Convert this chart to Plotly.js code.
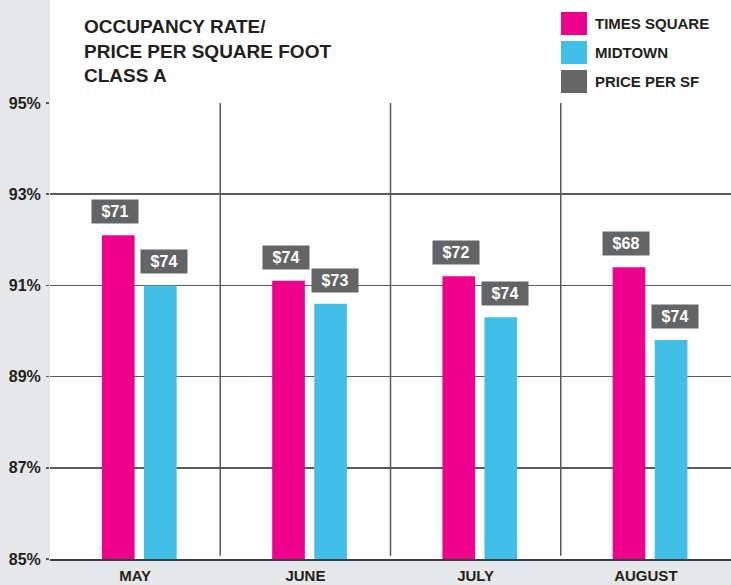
<!DOCTYPE html>
<html>
<head>
<meta charset="utf-8">
<script src="https://cdn.plot.ly/plotly-3.0.1.min.js"></script>
<style>html,body{margin:0;padding:0;background:#e6e7e8;}#chart{width:731px;height:585px;}</style>
</head>
<body>
<div id="chart"></div>
<script>
// ---- data ----
const months = ["MAY", "JUNE", "JULY", "AUGUST"];
const timesSquare = [92.1, 91.1, 91.2, 91.4];
const midtown = [91.0, 90.6, 90.3, 89.8];
const priceTimesSquare = ["$71", "$74", "$72", "$68"];
const priceMidtown = ["$74", "$73", "$74", "$74"];
const legendLabels = ["TIMES SQUARE", "MIDTOWN", "PRICE PER SF"];
const yTicks = [85, 87, 89, 91, 93, 95];

// ---- style ----
const PINK = "#ec008c", CYAN = "#41bfe9", BOX = "#636466", TXT = "#231f20", GRID = "#58595b";
const FONT = "Liberation Sans, Arial, sans-serif";
const W = 731, H = 585, L = 50, R = 0, T = 103, B = 26;
const px = x => (x - L) / (W - L - R);
const py = y => (H - B - y) / (H - T - B);

const TS_OFF = -0.195, MT_OFF = 0.052, BW = 0.192;
const idx = months.map((m, i) => i);

const traces = [
  {type: "bar", x: months, y: timesSquare, name: "TIMES SQUARE", marker: {color: PINK}, offset: TS_OFF, width: BW, hoverinfo: "x+y"},
  {type: "bar", x: months, y: midtown, name: "MIDTOWN", marker: {color: CYAN}, offset: MT_OFF, width: BW, hoverinfo: "x+y"}
];

const annotations = [];
const boxAnn = (x, y, text, xshift) => ({
  xref: "x", yref: "y", x: x, y: y, text: "<b>" + text + "</b>", showarrow: false,
  xanchor: "center", yanchor: "bottom", yshift: 11, xshift: xshift,
  bgcolor: BOX, width: 42, height: 19, borderpad: 2,
  font: {family: FONT, size: 16, color: "#ffffff"}
});
idx.forEach(i => {
  annotations.push(boxAnn(i + TS_OFF + BW / 2, timesSquare[i], priceTimesSquare[i], -3));
  annotations.push(boxAnn(i + MT_OFF + BW / 2, midtown[i], priceMidtown[i], 4));
});

const shapes = [
  // white panel above plot area
  {type: "rect", xref: "paper", yref: "paper", x0: 0, x1: 1, y0: 1, y1: py(0), fillcolor: "#ffffff", line: {width: 0}, layer: "below"}
];
// vertical separators between months
[0.5, 1.5, 2.5].forEach(xv => shapes.push({
  type: "line", xref: "x", yref: "y", x0: xv, x1: xv, y0: 85.07, y1: 95, line: {color: GRID, width: 1.5}
}));
// legend
const legColors = [PINK, CYAN, "#666666"];
const legTops = [12, 41, 70];
legendLabels.forEach((lab, k) => {
  shapes.push({type: "rect", xref: "paper", yref: "paper", x0: px(561), x1: px(587), y0: py(legTops[k] + 23), y1: py(legTops[k]), fillcolor: legColors[k], line: {width: 0}});
  annotations.push({xref: "paper", yref: "paper", x: px(593), y: py(legTops[k] + 11.5), xanchor: "left", yanchor: "middle", showarrow: false,
    text: "<b>" + lab + "</b>", font: {family: FONT, size: 15, color: TXT}});
});

const layout = {
  width: W, height: H,
  margin: {l: L, r: R, t: T, b: B, pad: 0},
  paper_bgcolor: "#e6e7e8", plot_bgcolor: "#ffffff",
  showlegend: false,
  barmode: "overlay",
  title: {
    text: "<b>OCCUPANCY RATE/<br>PRICE PER SQUARE FOOT<br>CLASS A</b>",
    x: 84 / W, xanchor: "left", xref: "container",
    y: 1 - 33 / H, yanchor: "top", yref: "container",
    font: {family: FONT, size: 19, color: TXT}
  },
  xaxis: {
    type: "category", range: [-0.5, 3.5], showgrid: false, zeroline: false,
    showline: true, linecolor: "#3d3d3d", linewidth: 2,
    ticks: "", tickfont: {family: FONT, size: 15, color: TXT, weight: "bold"},
    ticklabelstandoff: 2, fixedrange: true
  },
  yaxis: {
    range: [85, 95], tickvals: yTicks, ticktext: yTicks.map(v => v + "%"),
    showgrid: true, gridcolor: GRID, gridwidth: 1.5, zeroline: false, showline: false,
    ticks: "outside", ticklen: 3, tickcolor: GRID, tickwidth: 1.5,
    tickfont: {family: FONT, size: 16, color: TXT, weight: "bold"},
    ticklabelstandoff: 2, fixedrange: true
  },
  shapes: shapes,
  annotations: annotations,
  font: {family: FONT}
};

Plotly.newPlot("chart", traces, layout, {displayModeBar: false, staticPlot: true});
</script>
</body>
</html>
